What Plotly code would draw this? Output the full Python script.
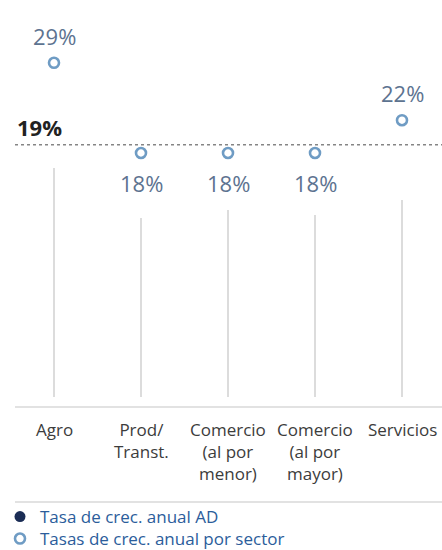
import plotly.graph_objects as go

# Sector growth rates (%)
sectors = ["Agro", "Prod/<br>Transt.", "Comercio<br>(al por<br>menor)",
           "Comercio<br>(al por<br>mayor)", "Servicios"]
sector_rates = [29, 18, 18, 18, 22]
ad_rate = 19
legend_names = ["Tasa de crec. anual AD", "Tasas de crec. anual por sector"]

W, H = 442, 550
FONT = "Open Sans"
x_idx = list(range(len(sectors)))


def py(px):
    """Convert a pixel row (from the top) into paper/container coordinates."""
    return 1 - px / H


fig = go.Figure()

# Sector markers (open circles)
fig.add_trace(go.Scatter(
    x=x_idx, y=sector_rates, mode="markers",
    name=legend_names[1], legend="legend2",
    marker=dict(symbol="circle-open", size=10, color="#6f9cc4",
                line=dict(width=2.6, color="#6f9cc4")),
    hoverinfo="skip", showlegend=True,
))
# Legend entry for the overall (AD) rate
fig.add_trace(go.Scatter(
    x=[None], y=[None], mode="markers", name=legend_names[0],
    legend="legend",
    marker=dict(symbol="circle", size=11, color="#1b2d55"),
    showlegend=True,
))

shapes = []
# Vertical guide lines per sector
line_tops = [168, 218, 210, 215, 200]
for i, top in zip(x_idx, line_tops):
    shapes.append(dict(type="line", xref="x", yref="paper",
                       x0=i, x1=i, y0=py(top), y1=py(397),
                       line=dict(color="#dcdcdc", width=2)))
# Overall rate reference line
shapes.append(dict(type="line", xref="paper", yref="y",
                   x0=15 / W, x1=1, y0=ad_rate, y1=ad_rate,
                   line=dict(color="#858585", width=1.6, dash="dot")))
# Baseline and separator above the legend
for row in (407, 502):
    shapes.append(dict(type="line", xref="paper", yref="paper",
                       x0=15 / W, x1=1, y0=py(row), y1=py(row),
                       line=dict(color="#e2e2e2", width=2)))

annotations = []
# Value labels: above the marker when above the AD line, else below
for i, v in zip(x_idx, sector_rates):
    above = v > ad_rate
    annotations.append(dict(
        x=i, y=v, xref="x", yref="y", text=f"{v}%", showarrow=False,
        yanchor="middle", yshift=27 if above else -30,
        font=dict(family=FONT, size=22, color="#5d7390"),
    ))
# AD rate label
annotations.append(dict(
    x=15 / W, y=ad_rate, xref="paper", yref="y", text=f"<b>{ad_rate}%</b>",
    showarrow=False, xanchor="left", yanchor="bottom", yshift=1,
    font=dict(family=FONT, size=22, color="#222222"),
))
# Category labels
for i, name in zip(x_idx, sectors):
    annotations.append(dict(
        x=i, y=py(416), xref="x", yref="paper", text=name,
        showarrow=False, yanchor="top", align="center",
        font=dict(family=FONT, size=17, color="#3c3c3c"),
    ))

slope = 8.2  # pixels per percentage point
y_top = 18 + 153 / slope
y_bot = 18 - (H - 153) / slope
x_left = -54 / 87
x_right = (W - 54) / 87

legend_style = dict(x=0.0, xanchor="left", yanchor="middle",
                    xref="container", yref="container",
                    itemwidth=30, borderwidth=0,
                    font=dict(family=FONT, size=17, color="#2b5d9b"),
                    bgcolor="rgba(0,0,0,0)")

fig.update_layout(
    width=W, height=H,
    margin=dict(l=0, r=0, t=0, b=0, autoexpand=False),
    paper_bgcolor="white", plot_bgcolor="white",
    xaxis=dict(range=[x_left, x_right], visible=False, fixedrange=True),
    yaxis=dict(range=[y_bot, y_top], visible=False, fixedrange=True),
    shapes=shapes, annotations=annotations,
    showlegend=True,
    legend=dict(y=py(517), **legend_style),
    legend2=dict(y=py(539), **legend_style),
)

fig.write_html("out.html")
